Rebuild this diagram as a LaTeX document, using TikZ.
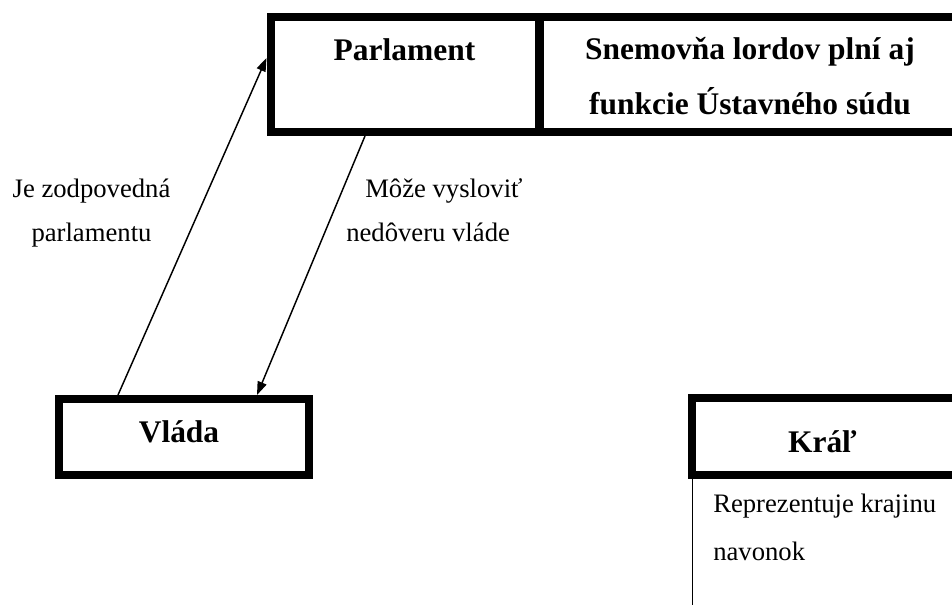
\documentclass[tikz,border=0pt]{standalone}
\usepackage{fontspec}
\setmainfont{Liberation Serif}
\usetikzlibrary{arrows.meta}
\newcommand{\boxfnt}{\fontsize{23.6}{41.25}\selectfont\bfseries}
\newcommand{\lblfnt}{\fontsize{20}{33}\selectfont}

\begin{document}
\begin{tikzpicture}[x=0.75pt,y=-0.75pt,
   frame/.style={draw, line width=6pt, inner sep=0pt},
   head/.style={font=\boxfnt, inner sep=0pt},
   note/.style={font=\lblfnt, inner sep=0pt},
   link/.style={-{Triangle[length=10pt,width=7pt]}, line width=1.1pt}]
   \useasboundingbox (0,0) rectangle (952,605);
   \clip (0,0) rectangle (952,605);
   % boxes
   \node[frame, minimum width=201.75pt, minimum height=86.25pt] (parl)  at (405,74.5) {};
   \node[frame, minimum width=375.4pt,  minimum height=86.25pt] (lords) at (789.75,74.5) {};
   \node[frame, minimum width=187.5pt,  minimum height=57pt]    (vlada) at (184,437) {};
   \node[frame, minimum width=261pt,    minimum height=57.75pt] (kral)  at (866,436.5) {};
   \draw[line width=1.1pt] ([xshift=3.5pt]kral.south west) -- ++(0,150);
   % box texts (base = last line)
   \node[head, anchor=base] (parltxt)  at (404.5,61) {Parlament};
   \node[head, anchor=base, align=center] (lordtxt) at (750,115)
    {Snemovňa lordov plní aj\\funkcie Ústavného súdu};
   \node[head, anchor=base] (vladatxt) at (179,442)  {Vláda};
   \node[head, anchor=base] (kraltxt)  at (822.5,452) {Kráľ};
   % arrows
   \draw[link] ([xshift=-49.5pt]vlada.north) -- ([yshift=12.4pt]parl.west);
   \draw[link] ([xshift=-30pt]parl.south) -- ([xshift=54.75pt]vlada.north);
   % labels
   \node[note, anchor=base, align=center] (zodp) at (91.5,242)
    {Je zodpovedná\\parlamentu};
   \node[note, anchor=base west, align=left] (neduv) at (346,242)
    {\hspace*{14.25pt}Môže vysloviť\\nedôveru vláde};
   \node[note, anchor=base west, align=left] (repr) at (713,560)
    {Reprezentuje\ krajinu\\[3pt]navonok};
\end{tikzpicture}
\end{document}
